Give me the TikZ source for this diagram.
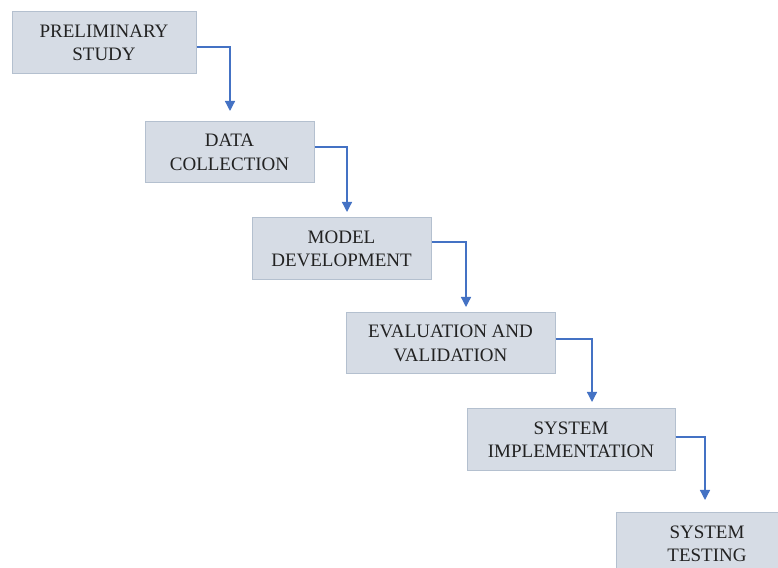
\documentclass[tikz,border=0pt]{standalone}
\usepackage{fontspec}
\setmainfont{Liberation Serif}
\usetikzlibrary{arrows.meta}
\definecolor{boxfill}{HTML}{D6DCE5}
\definecolor{boxline}{HTML}{B4C0CF}
\definecolor{arrcol}{HTML}{4472C4}
\definecolor{txt}{HTML}{222222}
\begin{document}
\begin{tikzpicture}[x=1pt,y=1pt,
  stepbox/.style={draw=boxline, line width=1pt, fill=boxfill, rectangle, inner sep=0pt,
    align=center, text=txt, font=\fontsize{19}{23.5}\selectfont},
  arr/.style={draw=arrcol, line width=1.3pt, -{Triangle[width=10pt,length=10pt]}}]
\useasboundingbox (0,0) rectangle (778,567);
\clip (0,0) rectangle (778,567);
\fill[white] (0,0) rectangle (778,567);
\node[stepbox, minimum width=184, minimum height=62] (b1) at (104,524) {PRELIMINARY\\STUDY};
\node[stepbox, minimum width=169, minimum height=61] (b2) at (229.5,414.5) {DATA\\COLLECTION};
\node[stepbox, minimum width=179, minimum height=62] (b3) at (341.5,318) {MODEL\\DEVELOPMENT};
\node[stepbox, minimum width=209, minimum height=61] (b4) at (450.5,223.5) {EVALUATION AND\\VALIDATION};
\node[stepbox, minimum width=208, minimum height=62] (b5) at (571,127) {SYSTEM\\IMPLEMENTATION};
\node[stepbox, minimum width=182, minimum height=62] (b6) at (707,23) {SYSTEM\\TESTING};
\coordinate (t1) at (230,456);
\coordinate (t2) at (347,355);
\coordinate (t3) at (466,260);
\coordinate (t4) at (592,165);
\coordinate (t5) at (705,67);
\draw[arr] (b1.east |- 0,520) -| (t1);
\draw[arr] (b2.east |- 0,420) -| (t2);
\draw[arr] (b3.east |- 0,325) -| (t3);
\draw[arr] (b4.east |- 0,228) -| (t4);
\draw[arr] (b5.east |- 0,130) -| (t5);
\end{tikzpicture}
\end{document}
